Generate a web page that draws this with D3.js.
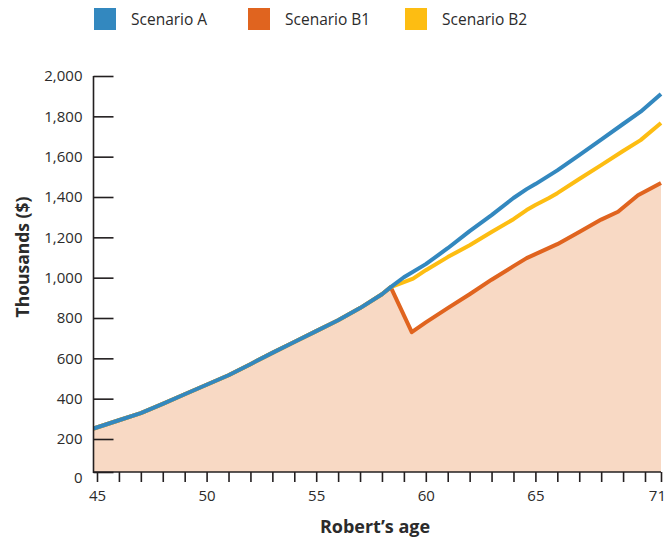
<!DOCTYPE html>
<html>
<head>
<meta charset="utf-8">
<script src="https://cdn.jsdelivr.net/npm/d3@7"></script>
<style>
  html, body { margin: 0; padding: 0; background: #fff; }
  svg { display: block; font-family: "Open Sans", "Noto Sans", sans-serif; }
</style>
</head>
<body>
<svg id="chart" width="667" height="539"></svg>
<script>
// ---- data ----
const seriesNames = ["Scenario A", "Scenario B1", "Scenario B2"];
// shared path before the scenarios diverge
const agesCommon = [44.85, 46, 47, 48, 49, 50, 51, 52, 53, 54, 55, 56, 57, 58, 58.4];
const valuesCommon = [252, 293, 328, 374, 422, 469, 516, 571, 627, 681, 735, 789, 849, 918, 953];
// Scenario A after split
const agesA = [59, 60, 61, 62, 63, 64, 64.6, 65, 66, 67, 68, 69, 69.8, 71];
const valuesA = [1002, 1067, 1146, 1231, 1310, 1395, 1439, 1464, 1532, 1608, 1685, 1762, 1823, 1911];
// Scenario B1 after split
const agesB1 = [59.36, 60, 61, 62, 63, 64, 64.6, 65, 66, 67, 68, 68.77, 69.68, 71];
const valuesB1 = [730, 778, 849, 918, 990, 1057, 1097, 1117, 1166, 1226, 1288, 1327, 1409, 1469];
// Scenario B2 after split
const agesB2 = [59.42, 60, 61, 62, 63, 64, 64.6, 65, 65.62, 66, 67, 68, 69, 69.8, 71];
const valuesB2 = [995, 1037, 1102, 1161, 1226, 1290, 1335, 1360, 1395, 1419, 1489, 1558, 1628, 1682, 1767];
// tick labels
const xTickValues = d3.range(45, 72);
const xTickLabels = [45, 50, 55, 60, 65, 71];
const yTickValues = [0, 200, 400, 600, 800, 1000, 1200, 1400, 1600, 1800, 2000];

// ---- styles ----
const colors = { "Scenario A": "#3388bf", "Scenario B1": "#e0641f", "Scenario B2": "#fdbd12" };
const fillColor = "#f8d9c4";
const inkColor = "#231f20";
const textColor = "#2b2b2b";

const svg = d3.select("#chart");

const axisX = 93.5;          // y-axis line position
const axisY = 472;           // x-axis line position

const x = d3.scaleLinear().domain([45, 70, 71]).range([97, 645, 661]);
const y = d3.scaleLinear().domain([0, 200, 2000]).range([axisY, 439, 76]);

function build(ages, vals) {
  return agesCommon.map((a, i) => ({ age: a, v: valuesCommon[i] }))
    .concat(ages.map((a, i) => ({ age: a, v: vals[i] })));
}
const data = {
  "Scenario A": build(agesA, valuesA),
  "Scenario B1": build(agesB1, valuesB1),
  "Scenario B2": build(agesB2, valuesB2)
};

// area under Scenario B1
const area = d3.area().x(d => x(d.age)).y0(axisY).y1(d => y(d.v));
svg.append("path").datum(data["Scenario B1"]).attr("d", area).attr("fill", fillColor);

// lines
const line = d3.line().x(d => x(d.age)).y(d => y(d.v));
["Scenario B1", "Scenario B2", "Scenario A"].forEach(name => {
  svg.append("path").datum(data[name]).attr("d", line)
    .attr("fill", "none").attr("stroke", colors[name])
    .attr("stroke-width", 4).attr("stroke-linejoin", "round").attr("stroke-linecap", "butt");
});

// y axis
const yAxis = d3.axisLeft(y).tickValues(yTickValues).tickSize(-20).tickPadding(11)
  .tickFormat(d3.format(","));
const gy = svg.append("g").attr("transform", `translate(${axisX},0)`).call(yAxis);
gy.select(".domain").remove();
gy.selectAll(".tick line").attr("stroke", inkColor).attr("stroke-width", 1.6);
gy.selectAll(".tick text").attr("fill", textColor).attr("font-size", 15)
  .attr("font-family", "'Open Sans', sans-serif");
gy.selectAll(".tick").filter(d => d === 0).select("text").attr("dy", "0.72em");

// x axis
const xAxis = d3.axisBottom(x).tickValues(xTickValues).tickSize(10).tickPadding(8).tickSizeOuter(0)
  .tickFormat(d => xTickLabels.includes(d) ? d : "");
const gx = svg.append("g").attr("transform", `translate(0,${axisY})`).call(xAxis);
gx.select(".domain").remove();
gx.selectAll(".tick line").attr("stroke", inkColor).attr("stroke-width", 1.6);
gx.selectAll(".tick text").attr("fill", textColor).attr("font-size", 15)
  .attr("font-family", "'Open Sans', sans-serif");
gx.selectAll(".tick").filter(d => d === 71).select("text").attr("text-anchor", "end").attr("dx", "0.3em");

// axis lines
svg.append("line").attr("x1", axisX).attr("x2", axisX).attr("y1", y(2000)).attr("y2", axisY + 1)
  .attr("stroke", inkColor).attr("stroke-width", 1.6);
svg.append("line").attr("x1", axisX).attr("x2", x(71)).attr("y1", axisY).attr("y2", axisY)
  .attr("stroke", inkColor).attr("stroke-width", 1.6);

// axis titles
svg.append("text").attr("x", 375).attr("y", 533).attr("text-anchor", "middle")
  .attr("font-size", 18).attr("font-weight", "bold").attr("fill", textColor)
  .text("Robert\u2019s age");
svg.append("text").attr("transform", "translate(29,257) rotate(-90)").attr("text-anchor", "middle")
  .attr("font-size", 17.5).attr("font-weight", "bold").attr("fill", textColor)
  .text("Thousands ($)");

// legend
const legendX = [94, 248, 405];
seriesNames.forEach((name, i) => {
  const g = svg.append("g").attr("transform", `translate(${legendX[i]},8)`);
  g.append("rect").attr("width", 22).attr("height", 22).attr("fill", colors[name]);
  g.append("text").attr("x", 37).attr("y", 16.5).attr("font-size", 15.5).attr("fill", textColor)
    .text(name);
});
</script>
</body>
</html>
